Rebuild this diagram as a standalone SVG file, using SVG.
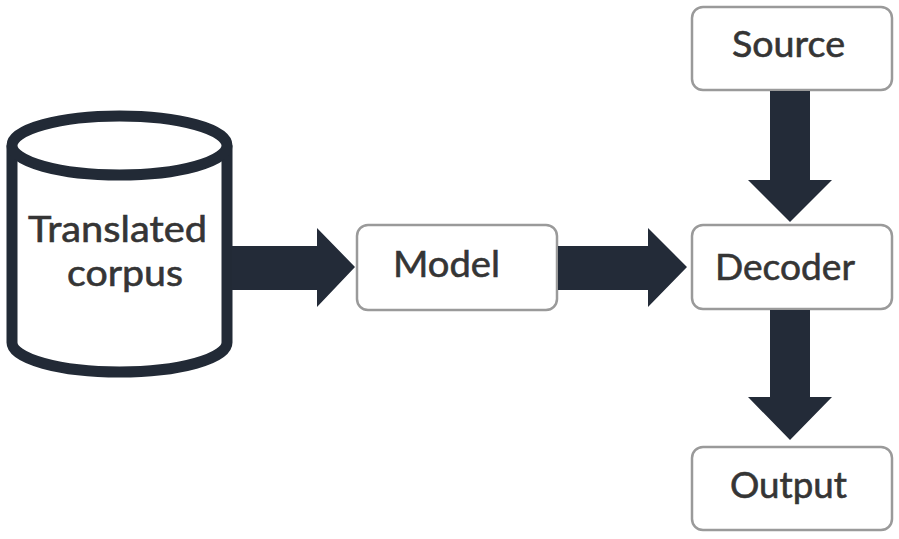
<svg xmlns="http://www.w3.org/2000/svg" width="899" height="539" viewBox="0 0 899 539">
  <defs>
    <style>
      .box { fill: #ffffff; stroke: #9a9a9a; stroke-width: 2.5; }
      .db { fill: #ffffff; stroke: #222a36; stroke-width: 11; }
      .label { font-family: Lato, "Open Sans", "Liberation Sans", sans-serif; font-size: 37px; fill: #353535; stroke: #353535; stroke-width: 0.6; }
      .arrow { fill: #232b38; }
    </style>
  </defs>
  <rect width="899" height="539" fill="#ffffff"/>

  <!-- Database cylinder -->
  <g id="corpus">
    <path class="db" d="M12,145.5 V342.5 A107.5,29.5 0 0 0 227,342.5 V145.5"/>
    <ellipse class="db" cx="119.5" cy="145.5" rx="107.5" ry="29.5"/>
    <text class="label" x="28" y="242" textLength="179" lengthAdjust="spacingAndGlyphs">Translated</text>
    <text class="label" x="67" y="286" textLength="116" lengthAdjust="spacingAndGlyphs">corpus</text>
  </g>

  <g id="model">
    <rect class="box" x="357" y="225" width="200" height="85" rx="11"/>
    <text class="label" x="393" y="277" textLength="107" lengthAdjust="spacingAndGlyphs">Model</text>
  </g>

  <g id="source">
    <rect class="box" x="692" y="7" width="200" height="83" rx="11"/>
    <text class="label" x="732" y="57" textLength="113" lengthAdjust="spacingAndGlyphs">Source</text>
  </g>

  <g id="decoder">
    <rect class="box" x="692" y="225" width="200" height="84" rx="11"/>
    <text class="label" x="715" y="280" textLength="140" lengthAdjust="spacingAndGlyphs">Decoder</text>
  </g>

  <g id="output">
    <rect class="box" x="692" y="447" width="200" height="83" rx="11"/>
    <text class="label" x="730" y="498" textLength="117" lengthAdjust="spacingAndGlyphs">Output</text>
  </g>

  <!-- Block arrows between stages -->
  <g id="connectors">
    <polygon class="arrow" points="232,246 317,246 317,228 355,267 317,307 317,290 232,290"/>
    <polygon class="arrow" points="558,246 648,246 648,228 687,267 648,307 648,290 558,290"/>
    <polygon class="arrow" points="770,91 810,91 810,180 832,180 790,222 748,180 770,180"/>
    <polygon class="arrow" points="770,310 810,310 810,397 832,397 790,440 748,397 770,397"/>
  </g>
</svg>
